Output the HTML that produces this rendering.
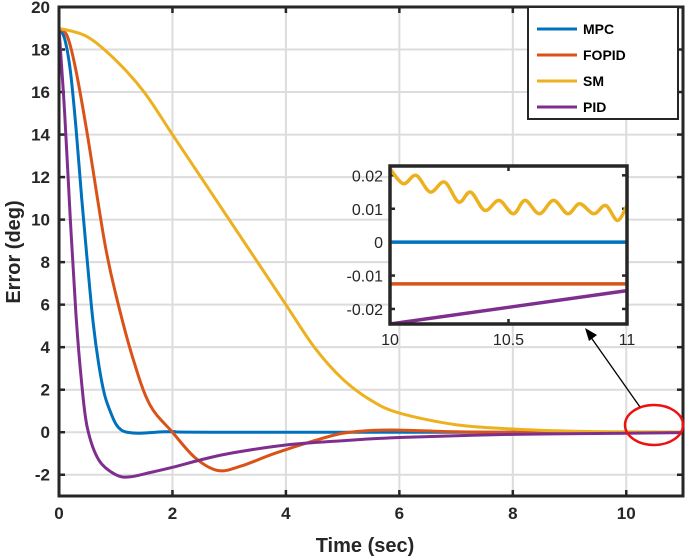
<!DOCTYPE html>
<html><head><meta charset="utf-8"><style>
body{margin:0;background:#fff;}
svg{display:block;font-family:"Liberation Sans",Arial,sans-serif;}
</style></head><body>
<svg id="c" width="685" height="556"></svg>
<script>
const tMPC=[0,0.1,0.2,0.3,0.4,0.5,0.6,0.7,0.8,0.9,1.0,1.1,1.2,1.4,1.7,2,3,11];
const vMPC=[19,18.5,17,14.3,11,8,5.2,3.2,1.8,1,0.4,0.1,0,-0.05,0,0.03,0,0];
const tFO=[0,0.15,0.3,0.5,0.8,1.0,1.3,1.6,2,2.4,2.8,3.2,3.8,4.5,5,5.5,6,7,8,11];
const vFO=[19,18.6,17,14,9,6.5,3.5,1.3,0,-1.2,-1.8,-1.6,-1,-0.4,-0.05,0.08,0.1,0.02,0,0];
const tSM=[0,0.5,1,1.5,2,2.5,3,3.5,4,4.5,5,5.5,6,7,8,9,10,11];
const vSM=[19,18.6,17.5,16,14,12,10,8,6,4,2.5,1.5,0.9,0.35,0.15,0.05,0.02,0.01];
const tPID=[0,0.1,0.2,0.3,0.4,0.5,0.7,1.0,1.25,1.6,2,2.5,3,4,5,6,8,10,11];
const vPID=[19,15,10,5.5,2.3,0.2,-1.3,-2.0,-2.1,-1.9,-1.65,-1.3,-1.0,-0.6,-0.4,-0.25,-0.1,-0.05,-0.02];
const iTSM=[10,10.056,10.11,10.17,10.23,10.29,10.34,10.4,10.46,10.52,10.57,10.63,10.69,10.75,10.8,10.86,10.91,10.96,11];
const iVSM=[0.022,0.0175,0.020,0.015,0.018,0.012,0.015,0.0095,0.0125,0.0085,0.0125,0.0085,0.0125,0.0085,0.0115,0.0085,0.011,0.0065,0.011];
const iMPC=[0,0]; const iFO=[-0.0125,-0.0125]; const iPID=[-0.0245,-0.0145]; const iT=[10,11];
const xTicks=[0,2,4,6,8,10]; const yTicks=[-2,0,2,4,6,8,10,12,14,16,18,20];
const ixTicks=[10,10.5,11]; const iyTicks=[-0.02,-0.01,0,0.01,0.02];
const ixLabels=["10","10.5","11"]; const iyLabels=["-0.02","-0.01","0","0.01","0.02"];
const series=["MPC","FOPID","SM","PID"];
const colors=["#0072BD","#D95319","#EDB120","#7E2F8E"];

const svg=document.getElementById('c');
const NS='http://www.w3.org/2000/svg';
function el(tag,attrs,parent){const e=document.createElementNS(NS,tag);for(const k in attrs)e.setAttribute(k,attrs[k]);(parent||svg).appendChild(e);return e;}
const L=59,R=683,T=7,B=496;
const X=t=>L+(t/11)*(R-L), Y=v=>B-((v+3)/23)*(B-T);
const iL=390,iR=627,iT0=166,iB=324,iy0=-0.0245,iy1=0.0228;
const IX=t=>iL+(t-10)*(iR-iL), IY=v=>iB-((v-iy0)/(iy1-iy0))*(iB-iT0);
function smooth(ts,vs,fx,fy){const p=ts.map((t,i)=>[fx(t),fy(vs[i])]);let d='M'+p[0][0]+','+p[0][1];
for(let i=0;i<p.length-1;i++){const p0=p[Math.max(0,i-1)],p1=p[i],p2=p[i+1],p3=p[Math.min(p.length-1,i+2)];
d+=' C'+(p1[0]+(p2[0]-p0[0])/6)+','+(p1[1]+(p2[1]-p0[1])/6)+' '+(p2[0]-(p3[0]-p1[0])/6)+','+(p2[1]-(p3[1]-p1[1])/6)+' '+p2[0]+','+p2[1];}return d;}

for(const t of xTicks){const g=el('line',{x1:X(t),x2:X(t),y1:T,y2:B,stroke:'#dcdcdc','stroke-width':2});}
for(const v of yTicks){const g=el('line',{x1:L,x2:R,y1:Y(v),y2:Y(v),stroke:'#dcdcdc','stroke-width':2});}
for(const t of xTicks){el('line',{x1:X(t),x2:X(t),y1:B,y2:B-6,stroke:'#262626','stroke-width':2.5});el('line',{x1:X(t),x2:X(t),y1:T,y2:T+6,stroke:'#262626','stroke-width':2.5});
const tx=el('text',{x:X(t),y:B+23,'text-anchor':'middle','font-size':17,'font-weight':'bold',fill:'#262626'});tx.textContent=t;}
for(const v of yTicks){el('line',{x1:L,x2:L+6,y1:Y(v),y2:Y(v),stroke:'#262626','stroke-width':2.5});el('line',{x1:R,x2:R-6,y1:Y(v),y2:Y(v),stroke:'#262626','stroke-width':2.5});
const tx=el('text',{x:L-9,y:Y(v)+6,'text-anchor':'end','font-size':17,'font-weight':'bold',fill:'#262626'});tx.textContent=v;}
const main=[[tMPC,vMPC],[tFO,vFO],[tSM,vSM],[tPID,vPID]];
main.forEach((s,i)=>{const p=el('path',{d:smooth(s[0],s[1],X,Y),fill:'none',stroke:colors[i],'stroke-width':3});});
el('rect',{x:L,y:T,width:R-L,height:B-T,fill:'none',stroke:'#262626','stroke-width':3});
const xl=el('text',{x:(L+R)/2-6,y:552,'text-anchor':'middle','font-size':20,'font-weight':'bold',fill:'#262626'});xl.textContent='Time (sec)';
const yl=el('text',{x:0,y:0,transform:'translate(20,252) rotate(-90)','text-anchor':'middle','font-size':20,'font-weight':'bold',fill:'#262626'});yl.textContent='Error (deg)';
const ib=el('rect',{x:iL,y:iT0,width:iR-iL,height:iB-iT0,fill:'#fff'});
for(const t of ixTicks){el('line',{x1:IX(t),x2:IX(t),y1:iB,y2:iB-5,stroke:'#262626','stroke-width':2.5});el('line',{x1:IX(t),x2:IX(t),y1:iT0,y2:iT0+5,stroke:'#262626','stroke-width':2.5});}
ixTicks.forEach((t,i)=>{const tx=el('text',{x:IX(t),y:iB+21,'text-anchor':'middle','font-size':16,fill:'#262626'});tx.textContent=ixLabels[i];});
iyTicks.forEach((v,i)=>{el('line',{x1:iL,x2:iL+5,y1:IY(v),y2:IY(v),stroke:'#262626','stroke-width':2.5});el('line',{x1:iR,x2:iR-5,y1:IY(v),y2:IY(v),stroke:'#262626','stroke-width':2.5});
const tx=el('text',{x:iL-7,y:IY(v)+6,'text-anchor':'end','font-size':16,fill:'#262626'});tx.textContent=iyLabels[i];});
const ins=[[iT,iMPC],[iT,iFO],[iTSM,iVSM],[iT,iPID]];
ins.forEach((s,i)=>{const p=el('path',{d:smooth(s[0],s[1],IX,IY),fill:'none',stroke:colors[i],'stroke-width':3.5});});
const ibx=el('rect',{x:iL,y:iT0,width:iR-iL,height:iB-iT0,fill:'none',stroke:'#262626','stroke-width':3.5});
const ell=el('ellipse',{cx:654,cy:425,rx:29,ry:20,fill:'none',stroke:'#ee1111','stroke-width':2.5});
const ar=el('line',{x1:640,x2:590,y1:407,y2:336,stroke:'#000','stroke-width':1.3});
el('polygon',{points:'585,328 597,335 589,341',fill:'#000'});
const lg=el('g',{});
el('rect',{x:528,y:7,width:150,height:112,fill:'#fff',stroke:'#262626','stroke-width':2},lg);
series.forEach((n,i)=>{const y=29+i*26;const g=el('g',{},lg);
el('line',{x1:537,x2:577,y1:y,y2:y,stroke:colors[i],'stroke-width':3},g);
const tx=el('text',{x:583,y:y+5,'font-size':14,'font-weight':'bold',fill:'#000'},g);tx.textContent=n;});
</script>
</body></html>
